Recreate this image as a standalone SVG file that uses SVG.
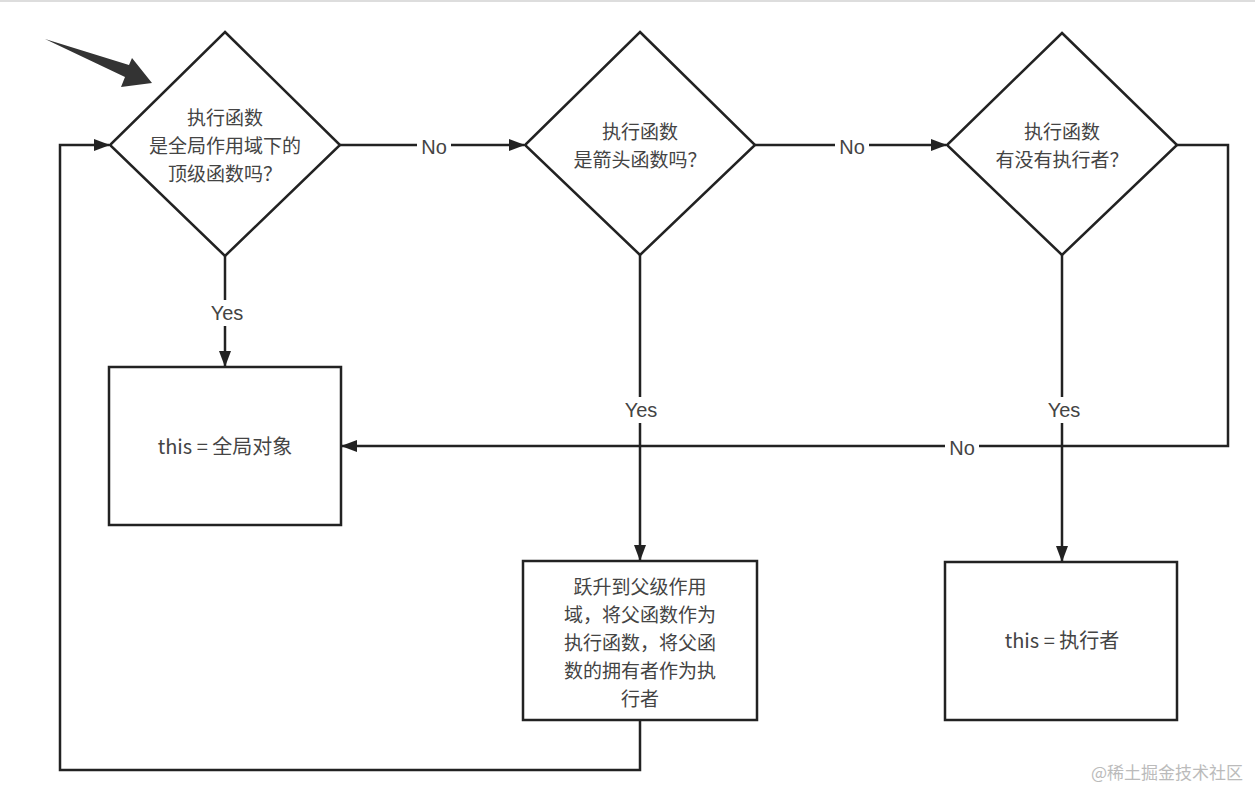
<svg xmlns="http://www.w3.org/2000/svg" width="1255" height="797" viewBox="0 0 1255 797">
<style>
.shape{fill:#fff;stroke:#222;stroke-width:2.5}
.edge{fill:none;stroke:#222;stroke-width:2.5}
.t{font-family:"Noto Sans CJK SC","Noto Sans",sans-serif;font-size:19px;fill:#444;text-anchor:middle}
.big{font-size:20px}
.lbl{font-family:"Liberation Sans","Noto Sans",sans-serif;font-size:20px;fill:#444;text-anchor:middle}
.bg{fill:#fff}
</style>
<defs>
<marker id="ah" markerWidth="16" markerHeight="12" refX="15" refY="6" orient="auto" markerUnits="userSpaceOnUse">
<path d="M0,0 L16,6 L0,12 Z" fill="#222"/>
</marker>
</defs>
<rect x="0" y="0" width="1255" height="797" fill="#fff"/>
<rect x="0" y="0" width="1255" height="2" fill="#ddd"/>

<!-- pointer arrow -->
<polygon points="45,39 129,65 132,58 152,83 121,87 125,77" fill="#333"/>

<g id="connectors">
  <line class="edge" x1="225" y1="256" x2="225" y2="366" marker-end="url(#ah)"/>
  <line class="edge" x1="340" y1="145" x2="524" y2="145" marker-end="url(#ah)"/>
  <line class="edge" x1="755" y1="145" x2="946" y2="145" marker-end="url(#ah)"/>
  <line class="edge" x1="640" y1="255" x2="640" y2="560" marker-end="url(#ah)"/>
  <line class="edge" x1="1062" y1="255" x2="1062" y2="561" marker-end="url(#ah)"/>
  <polyline class="edge" points="1177,145 1228,145 1228,446 342,446" marker-end="url(#ah)"/>
  <polyline class="edge" points="640,720 640,770 60,770 60,145 109,145" marker-end="url(#ah)"/>
  <g id="edge-labels">
    <rect class="bg" x="208" y="300" width="38" height="26"/>
    <text class="lbl" x="227" y="320">Yes</text>
    <rect class="bg" x="417" y="134" width="34" height="26"/>
    <text class="lbl" x="434" y="154">No</text>
    <rect class="bg" x="835" y="134" width="34" height="26"/>
    <text class="lbl" x="852" y="154">No</text>
    <rect class="bg" x="622" y="397" width="38" height="26"/>
    <text class="lbl" x="641" y="417">Yes</text>
    <rect class="bg" x="1045" y="397" width="38" height="26"/>
    <text class="lbl" x="1064" y="417">Yes</text>
    <rect class="bg" x="945" y="435" width="34" height="26"/>
    <text class="lbl" x="962" y="455">No</text>
  </g>
</g>

<g id="d1">
  <polygon class="shape" points="225,32 340,145 225,256 110,145"/>
  <text class="t" x="225" y="125">执行函数</text>
  <text class="t" x="225" y="153">是全局作用域下的</text>
  <text class="t" x="225" y="181">顶级函数吗？</text>
</g>
<g id="d2">
  <polygon class="shape" points="640,32 755,145 640,255 525,145"/>
  <text class="t" x="640" y="139">执行函数</text>
  <text class="t" x="640" y="167">是箭头函数吗？</text>
</g>
<g id="d3">
  <polygon class="shape" points="1062,33 1177,145 1062,255 947,145"/>
  <text class="t" x="1062" y="139">执行函数</text>
  <text class="t" x="1062" y="167">有没有执行者？</text>
</g>
<g id="b1">
  <rect class="shape" x="109" y="367" width="232" height="158"/>
  <text class="t big" x="225" y="454">this = 全局对象</text>
</g>
<g id="b2">
  <rect class="shape" x="523" y="561" width="234" height="159"/>
  <text class="t" x="640" y="594">跃升到父级作用</text>
  <text class="t" x="640" y="622">域，将父函数作为</text>
  <text class="t" x="640" y="650">执行函数，将父函</text>
  <text class="t" x="640" y="678">数的拥有者作为执</text>
  <text class="t" x="640" y="706">行者</text>
</g>
<g id="b3">
  <rect class="shape" x="945" y="562" width="232" height="158"/>
  <text class="t big" x="1062" y="648">this = 执行者</text>
</g>
<text x="1243" y="779" font-family="Noto Sans CJK SC, sans-serif" font-size="17" fill="#bbb" text-anchor="end">@稀土掘金技术社区</text>
</svg>
